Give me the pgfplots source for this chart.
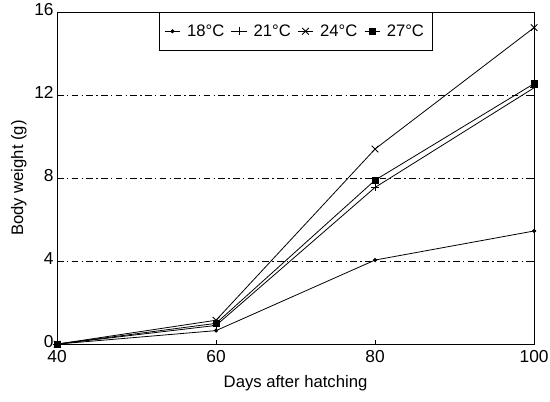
\documentclass[border=0pt]{standalone}
\usepackage{pgfplots}
\pgfplotsset{compat=1.18}
\usepackage{fontspec}
\setmainfont{Liberation Sans}
\begin{document}
\begin{tikzpicture}
\begin{axis}[
    width=357.75pt, height=249pt,
    scale only axis,
    xmin=40, xmax=100, ymin=0, ymax=16,
    xtick={40,60,80,100},
    ytick={0,4,8,12,16},
    tick style={black, thin},
    tick align=inside,
    major tick length=3pt,
    ymajorgrids,
    grid style={black, thin, dash pattern=on 5pt off 2.5pt on 1pt off 2.5pt},
    axis line style={black, semithick},
    xlabel={Days after hatching},
    ylabel={Body weight (g)},
    label style={font=\fontsize{12.5}{14}\selectfont},
    ticklabel style={font=\fontsize{13}{15}\selectfont},
    /pgf/number format/assume math mode=true,
    xticklabel style={yshift=-1pt},
    yticklabel style={xshift=1pt, yshift=2pt},
    xlabel style={yshift=-3pt},
    ylabel style={yshift=-1pt},
    legend columns=-1,
    legend style={at={(0.5,1)}, anchor=north, draw=black, semithick,
      font=\fontsize{12.5}{14}\selectfont, column sep=3pt,
      inner ysep=7pt, inner xsep=4pt},
    legend image code/.code={
      \draw[#1] (0mm,0mm) -- (4mm,0mm);
      \draw[#1, only marks] plot coordinates {(2mm,0mm)};
    },
    every axis plot/.append style={black, semithick},
    ]
\addplot[mark=*, mark size=1.2pt] coordinates {(40,0) (60,0.65) (80,4.05) (100,5.45)};
\addplot[mark=+, mark size=3pt] coordinates {(40,0) (60,0.9) (80,7.55) (100,12.35)};
\addplot[mark=x, mark size=3.5pt] coordinates {(40,0) (60,1.15) (80,9.4) (100,15.25)};
\addplot[mark=square*, mark size=2.2pt] coordinates {(40,0) (60,1.0) (80,7.9) (100,12.55)};
\legend{18°C, 21°C, 24°C, 27°C}
\coordinate (bbsw) at (axis cs:32.83,-2.75);
\coordinate (bbne) at (axis cs:102.0,16.58);
\end{axis}
\pgfresetboundingbox
\path[use as bounding box] (bbsw) rectangle (bbne);
\end{tikzpicture}
\end{document}
